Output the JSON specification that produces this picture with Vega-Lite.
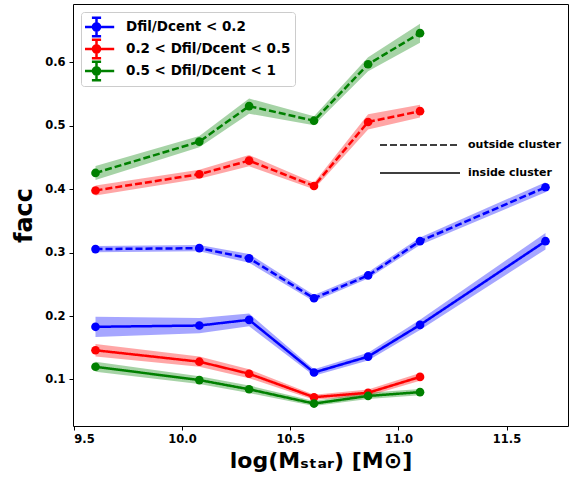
{
  "$schema": "https://vega.github.io/schema/vega-lite/v6.json",
  "width": 495,
  "height": 422,
  "autosize": {"type": "none"},
  "padding": {"left": 73, "top": 4, "right": 7, "bottom": 54},
  "background": "white",
  "config": {
    "font": "DejaVu Sans",
    "view": {"stroke": "black", "strokeWidth": 1},
    "axis": {
      "grid": false,
      "domain": false,
      "tickColor": "black",
      "tickSize": 4,
      "tickWidth": 1,
      "labelFont": "DejaVu Sans",
      "labelFontWeight": "bold",
      "labelFontSize": 11.5,
      "labelColor": "black",
      "titleFont": "DejaVu Sans",
      "titleFontWeight": "bold",
      "titleColor": "black"
    }
  },
  "data": {
    "values": [
      {"grp": "Dfil/Dcent < 0.2", "loc": "outside cluster", "x": 9.6, "y": 0.3055, "lo": 0.3005, "hi": 0.3105},
      {"grp": "Dfil/Dcent < 0.2", "loc": "outside cluster", "x": 10.08, "y": 0.307, "lo": 0.302, "hi": 0.312},
      {"grp": "Dfil/Dcent < 0.2", "loc": "outside cluster", "x": 10.31, "y": 0.291, "lo": 0.284, "hi": 0.298},
      {"grp": "Dfil/Dcent < 0.2", "loc": "outside cluster", "x": 10.61, "y": 0.228, "lo": 0.223, "hi": 0.233},
      {"grp": "Dfil/Dcent < 0.2", "loc": "outside cluster", "x": 10.86, "y": 0.264, "lo": 0.259, "hi": 0.269},
      {"grp": "Dfil/Dcent < 0.2", "loc": "outside cluster", "x": 11.1, "y": 0.318, "lo": 0.312, "hi": 0.324},
      {"grp": "Dfil/Dcent < 0.2", "loc": "outside cluster", "x": 11.68, "y": 0.403, "lo": 0.395, "hi": 0.411},
      {"grp": "Dfil/Dcent < 0.2", "loc": "inside cluster", "x": 9.6, "y": 0.183, "lo": 0.167, "hi": 0.199},
      {"grp": "Dfil/Dcent < 0.2", "loc": "inside cluster", "x": 10.08, "y": 0.185, "lo": 0.173, "hi": 0.197},
      {"grp": "Dfil/Dcent < 0.2", "loc": "inside cluster", "x": 10.31, "y": 0.194, "lo": 0.184, "hi": 0.204},
      {"grp": "Dfil/Dcent < 0.2", "loc": "inside cluster", "x": 10.61, "y": 0.111, "lo": 0.106, "hi": 0.116},
      {"grp": "Dfil/Dcent < 0.2", "loc": "inside cluster", "x": 10.86, "y": 0.136, "lo": 0.13, "hi": 0.142},
      {"grp": "Dfil/Dcent < 0.2", "loc": "inside cluster", "x": 11.1, "y": 0.186, "lo": 0.178, "hi": 0.194},
      {"grp": "Dfil/Dcent < 0.2", "loc": "inside cluster", "x": 11.68, "y": 0.318, "lo": 0.305, "hi": 0.331},
      {"grp": "0.2 < Dfil/Dcent < 0.5", "loc": "outside cluster", "x": 9.6, "y": 0.398, "lo": 0.39, "hi": 0.406},
      {"grp": "0.2 < Dfil/Dcent < 0.5", "loc": "outside cluster", "x": 10.08, "y": 0.4236, "lo": 0.4166, "hi": 0.4306},
      {"grp": "0.2 < Dfil/Dcent < 0.5", "loc": "outside cluster", "x": 10.31, "y": 0.445, "lo": 0.436, "hi": 0.454},
      {"grp": "0.2 < Dfil/Dcent < 0.5", "loc": "outside cluster", "x": 10.61, "y": 0.405, "lo": 0.4, "hi": 0.41},
      {"grp": "0.2 < Dfil/Dcent < 0.5", "loc": "outside cluster", "x": 10.86, "y": 0.506, "lo": 0.494, "hi": 0.518},
      {"grp": "0.2 < Dfil/Dcent < 0.5", "loc": "outside cluster", "x": 11.1, "y": 0.523, "lo": 0.513, "hi": 0.533},
      {"grp": "0.2 < Dfil/Dcent < 0.5", "loc": "inside cluster", "x": 9.6, "y": 0.146, "lo": 0.136, "hi": 0.156},
      {"grp": "0.2 < Dfil/Dcent < 0.5", "loc": "inside cluster", "x": 10.08, "y": 0.128, "lo": 0.12, "hi": 0.136},
      {"grp": "0.2 < Dfil/Dcent < 0.5", "loc": "inside cluster", "x": 10.31, "y": 0.109, "lo": 0.102, "hi": 0.116},
      {"grp": "0.2 < Dfil/Dcent < 0.5", "loc": "inside cluster", "x": 10.61, "y": 0.072, "lo": 0.068, "hi": 0.076},
      {"grp": "0.2 < Dfil/Dcent < 0.5", "loc": "inside cluster", "x": 10.86, "y": 0.079, "lo": 0.074, "hi": 0.084},
      {"grp": "0.2 < Dfil/Dcent < 0.5", "loc": "inside cluster", "x": 11.1, "y": 0.104, "lo": 0.098, "hi": 0.11},
      {"grp": "0.5 < Dfil/Dcent < 1", "loc": "outside cluster", "x": 9.6, "y": 0.4256, "lo": 0.4146, "hi": 0.4366},
      {"grp": "0.5 < Dfil/Dcent < 1", "loc": "outside cluster", "x": 10.08, "y": 0.475, "lo": 0.466, "hi": 0.484},
      {"grp": "0.5 < Dfil/Dcent < 1", "loc": "outside cluster", "x": 10.31, "y": 0.531, "lo": 0.519, "hi": 0.543},
      {"grp": "0.5 < Dfil/Dcent < 1", "loc": "outside cluster", "x": 10.61, "y": 0.508, "lo": 0.501, "hi": 0.515},
      {"grp": "0.5 < Dfil/Dcent < 1", "loc": "outside cluster", "x": 10.86, "y": 0.597, "lo": 0.586, "hi": 0.608},
      {"grp": "0.5 < Dfil/Dcent < 1", "loc": "outside cluster", "x": 11.1, "y": 0.646, "lo": 0.631, "hi": 0.661},
      {"grp": "0.5 < Dfil/Dcent < 1", "loc": "inside cluster", "x": 9.6, "y": 0.12, "lo": 0.112, "hi": 0.128},
      {"grp": "0.5 < Dfil/Dcent < 1", "loc": "inside cluster", "x": 10.08, "y": 0.099, "lo": 0.093, "hi": 0.105},
      {"grp": "0.5 < Dfil/Dcent < 1", "loc": "inside cluster", "x": 10.31, "y": 0.0845, "lo": 0.0785, "hi": 0.0905},
      {"grp": "0.5 < Dfil/Dcent < 1", "loc": "inside cluster", "x": 10.61, "y": 0.062, "lo": 0.058, "hi": 0.066},
      {"grp": "0.5 < Dfil/Dcent < 1", "loc": "inside cluster", "x": 10.86, "y": 0.074, "lo": 0.069, "hi": 0.079},
      {"grp": "0.5 < Dfil/Dcent < 1", "loc": "inside cluster", "x": 11.1, "y": 0.08, "lo": 0.075, "hi": 0.085}
    ]
  },
  "encoding": {
    "x": {
      "field": "x",
      "type": "quantitative",
      "scale": {"domain": [9.496, 11.784], "nice": false, "zero": false},
      "axis": {"values": [9.5, 10, 10.5, 11, 11.5], "format": ".1f", "title": "log(Mₛₜₐᵣ) [M⊙]", "titleFontSize": 22, "labelPadding": 3, "titlePadding": 6}
    }
  },
  "resolve": {"legend": {"color": "independent"}},
  "layer": [
    {
      "mark": {"type": "area", "opacity": 0.35},
      "encoding": {
        "y": {
          "field": "lo",
          "type": "quantitative",
          "scale": {"domain": [0.0266, 0.692], "nice": false, "zero": false},
          "axis": {"values": [0.1, 0.2, 0.3, 0.4, 0.5, 0.6], "format": ".1f", "title": "facc", "titleFontSize": 24, "labelPadding": 4, "titlePadding": 8}
        },
        "y2": {"field": "hi"},
        "color": {
          "field": "grp",
          "type": "nominal",
          "scale": {"domain": ["Dfil/Dcent < 0.2", "0.2 < Dfil/Dcent < 0.5", "0.5 < Dfil/Dcent < 1"], "range": ["#0000ff", "#ff0000", "#008000"]},
          "legend": null
        },
        "detail": {"field": "loc", "type": "nominal"}
      }
    },
    {
      "mark": {"type": "line", "strokeWidth": 2.5},
      "encoding": {
        "y": {
          "field": "y",
          "type": "quantitative",
          "scale": {"domain": [0.0266, 0.692], "nice": false, "zero": false},
          "axis": {"values": [0.1, 0.2, 0.3, 0.4, 0.5, 0.6], "format": ".1f", "title": "facc", "titleFontSize": 24, "labelPadding": 4, "titlePadding": 8}
        },
        "color": {
          "field": "grp",
          "type": "nominal",
          "scale": {"domain": ["Dfil/Dcent < 0.2", "0.2 < Dfil/Dcent < 0.5", "0.5 < Dfil/Dcent < 1"], "range": ["#0000ff", "#ff0000", "#008000"]},
          "legend": {
            "title": null,
            "orient": "top-left",
            "offset": 8,
            "symbolType": "M-1.77,0H1.77M0,-0.92V0.92M-0.46,-0.92H0.46M-0.46,0.92H0.46M-0.354,0A0.354,0.354 0 1,0 0.354,0A0.354,0.354 0 1,0 -0.354,0M-0.114,0A0.114,0.114 0 1,0 0.114,0A0.114,0.114 0 1,0 -0.114,0",
            "symbolSize": 400,
            "symbolStrokeWidth": 2.5,
            "symbolOpacity": 1,
            "clipHeight": 22,
            "labelFont": "DejaVu Sans",
            "labelFontSize": 13.5,
            "labelFontWeight": "bold",
            "labelColor": "black",
            "labelLimit": 300,
            "labelOffset": 18,
            "strokeColor": "#cccccc",
            "fillColor": "white",
            "cornerRadius": 3,
            "padding": 4,
            "rowPadding": 0
          }
        },
        "strokeDash": {
          "field": "loc",
          "type": "nominal",
          "scale": {"domain": ["outside cluster", "inside cluster"], "range": [[7, 3], [1, 0]]},
          "legend": {
            "title": null,
            "orient": "none",
            "legendX": 341,
            "legendY": 135,
            "symbolType": "M-8,0H8",
            "symbolSize": 100,
            "symbolStrokeWidth": 1.5,
            "symbolStrokeColor": "black",
            "labelFont": "DejaVu Sans",
            "labelFontSize": 11,
            "labelFontWeight": "bold",
            "labelColor": "black",
            "labelOffset": 42,
            "rowPadding": 17
          }
        }
      }
    },
    {
      "mark": {"type": "point", "filled": true, "size": 75, "opacity": 1},
      "encoding": {
        "y": {
          "field": "y",
          "type": "quantitative",
          "scale": {"domain": [0.0266, 0.692], "nice": false, "zero": false},
          "axis": {"values": [0.1, 0.2, 0.3, 0.4, 0.5, 0.6], "format": ".1f", "title": "facc", "titleFontSize": 24, "labelPadding": 4, "titlePadding": 8}
        },
        "color": {
          "field": "grp",
          "type": "nominal",
          "scale": {"domain": ["Dfil/Dcent < 0.2", "0.2 < Dfil/Dcent < 0.5", "0.5 < Dfil/Dcent < 1"], "range": ["#0000ff", "#ff0000", "#008000"]},
          "legend": null
        }
      }
    }
  ]
}
